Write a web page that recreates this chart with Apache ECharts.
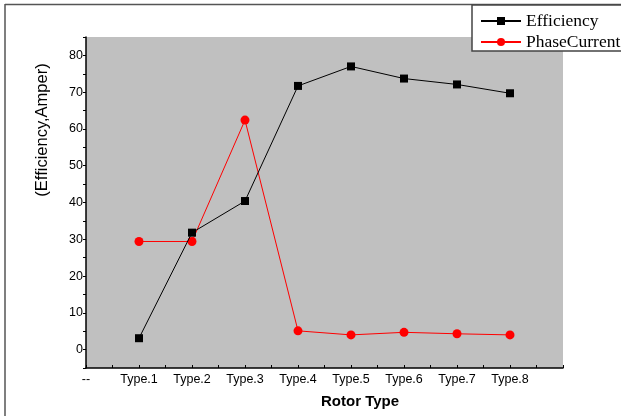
<!DOCTYPE html>
<html>
<head>
<meta charset="utf-8">
<script src="https://cdn.jsdelivr.net/npm/echarts@6/dist/echarts.min.js"></script>
<style>
  html, body { margin: 0; padding: 0; background: #fff; }
  #chart { width: 621px; height: 416px; }
</style>
</head>
<body>
<div id="chart"></div>
<script>
// Rotor types along the x axis ("--" is the origin slot, last slot is blank padding)
const categories = ['--', 'Type.1', 'Type.2', 'Type.3', 'Type.4', 'Type.5', 'Type.6', 'Type.7', 'Type.8', ''];
// Measured values per rotor type (Type.1 .. Type.8)
const efficiency = [3.1, 31.8, 40.4, 71.7, 77.0, 73.7, 72.1, 69.7];
const phaseCurrent = [29.4, 29.4, 62.4, 5.1, 4.0, 4.7, 4.3, 4.0];
// Y axis range and labelled ticks
const yMin = -5, yMax = 85, yStep = 5, yLabelEvery = 10;

// place each value on its category slot (slot 0 is empty)
const toSlots = vals => [null].concat(vals, [null]);

const chart = echarts.init(document.getElementById('chart'), null, { renderer: 'canvas' });

const sans = 'Liberation Sans, Arial, sans-serif';
const serif = 'Liberation Serif, Times New Roman, serif';

chart.setOption({
  backgroundColor: '#ffffff',
  animation: false,
  grid: { left: 86, right: 58, top: 37, bottom: 48, show: true, backgroundColor: '#c0c0c0', borderWidth: 0 },
  legend: {
    orient: 'vertical',
    left: 472, top: 5,
    backgroundColor: '#ffffff',
    borderColor: '#444444',
    borderWidth: 1.5,
    padding: [7, 60, 0, 8],
    itemGap: 3,
    itemWidth: 40,
    itemHeight: 10,
    textStyle: { fontFamily: serif, fontSize: 17.5, color: '#000' },
    data: ['Efficiency', 'PhaseCurrent']
  },
  xAxis: [
    {
      type: 'category',
      data: categories,
      boundaryGap: false,
      axisLine: { onZero: false, lineStyle: { color: '#000', width: 1.5 } },
      axisTick: { show: false },
      axisLabel: { color: '#000', fontFamily: sans, fontSize: 12.5, margin: 5, interval: 0 },
      splitLine: { show: false }
    },
    {
      // half-step tick marks along the bottom axis
      type: 'value',
      position: 'bottom',
      min: 0, max: categories.length - 1, interval: 0.5,
      axisLine: { show: false, onZero: false },
      axisTick: { show: true, inside: true, length: 3, lineStyle: { color: '#000', width: 1 } },
      axisLabel: { show: false },
      splitLine: { show: false }
    }
  ],
  yAxis: {
    type: 'value',
    min: yMin, max: yMax, interval: yStep,
    axisLine: { show: true, onZero: false, lineStyle: { color: '#000', width: 1.5 } },
    axisTick: { show: true, length: 3, lineStyle: { color: '#000' } },
    axisLabel: {
      color: '#000', fontFamily: sans, fontSize: 12.5, margin: 3,
      formatter: v => (v % yLabelEvery === 0 ? String(v) : '')
    },
    splitLine: { show: false }
  },
  series: [
    {
      name: 'Efficiency',
      type: 'line',
      xAxisIndex: 0,
      data: toSlots(efficiency),
      symbol: 'rect',
      symbolSize: 8,
      itemStyle: { color: '#000' },
      lineStyle: { color: '#000', width: 1 },
      z: 3
    },
    {
      name: 'PhaseCurrent',
      type: 'line',
      xAxisIndex: 0,
      data: toSlots(phaseCurrent),
      symbol: 'circle',
      symbolSize: 9,
      itemStyle: { color: '#ff0000' },
      lineStyle: { color: '#ff0000', width: 1 },
      z: 2
    }
  ],
  graphic: [
    // outer frame (top and left edges)
    { type: 'line', shape: { x1: 5, y1: 4.5, x2: 621, y2: 4.5 }, style: { stroke: '#555', lineWidth: 1.5 }, z: 0 },
    { type: 'line', shape: { x1: 5, y1: 4, x2: 5, y2: 416 }, style: { stroke: '#555', lineWidth: 1.5 }, z: 0 },
    {
      type: 'text', x: 42, y: 130, rotation: Math.PI / 2,
      style: { text: '(Efficiency,Amper)', font: '16.5px ' + sans, fill: '#000', textAlign: 'center', textVerticalAlign: 'middle' }
    },
    {
      type: 'text', x: 360, y: 402,
      style: { text: 'Rotor Type', font: 'bold 15px ' + sans, fill: '#000', textAlign: 'center', textVerticalAlign: 'middle' }
    }
  ]
});
</script>
</body>
</html>
